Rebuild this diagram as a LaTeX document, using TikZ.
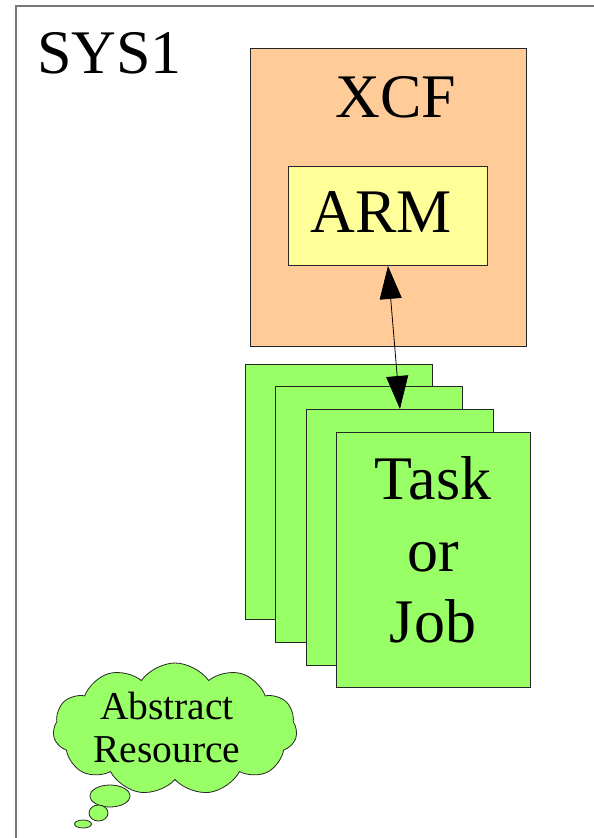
\documentclass[tikz,border=0pt]{standalone}
\usepackage{fontspec}
\setmainfont{Liberation Serif}
\usetikzlibrary{shapes.symbols,shapes.geometric,arrows.meta}
\definecolor{xcffill}{HTML}{FFCC99}
\definecolor{armfill}{HTML}{FFFF99}
\definecolor{jobfill}{HTML}{99FF66}
\definecolor{framegray}{HTML}{777777}
\tikzset{
  frameline/.style={draw=framegray, line width=1.2pt},
  panel/.style={draw=black!85, line width=0.9pt, anchor=north west, inner sep=0pt},
  bigtext/.style={font=\fontsize{62}{71.5}\selectfont, inner sep=0pt, align=center},
  cloudtext/.style={font=\fontsize{39.5}{43}\selectfont, inner sep=0pt, align=center},
  puff/.style={ellipse, draw=black!85, line width=0.8pt, fill=jobfill, inner sep=0pt},
  link/.style={line width=0.8pt, {Triangle[length=33pt,width=22pt]}-{Triangle[length=33pt,width=22pt]}}
}
\begin{document}
\begin{tikzpicture}[x=1pt, y=-1pt]
\useasboundingbox (0,0) rectangle (594,838);
\clip (0,0) rectangle (594,838);

% system frame (runs past the right and bottom edges)
\draw[frameline] (16,6) rectangle (640,880);
\node[bigtext, anchor=base west] (sys) at (37,73) {SYS1};

% XCF with its ARM component
\node[panel, fill=xcffill, minimum width=276pt, minimum height=298pt] (xcf) at (250,48) {};
\node[bigtext, anchor=base] (xcflabel) at (396,117) {XCF};
\node[panel, fill=armfill, minimum width=199pt, minimum height=99pt] (arm) at (288,166) {};
\node[bigtext, anchor=base] (armlabel) at (381,232) {ARM};

% stack of tasks / jobs
\node[panel, fill=jobfill, minimum width=187pt, minimum height=255pt] (job1) at (245,364) {};
\node[panel, fill=jobfill, minimum width=187pt, minimum height=256pt] (job2) at (275,386) {};
\node[panel, fill=jobfill, minimum width=187pt, minimum height=256pt] (job3) at (306,409) {};
\node[panel, fill=jobfill, minimum width=194pt, minimum height=255pt] (job4) at (336,432) {};
\node[bigtext] (joblabel) at (433,550) {Task\\or\\Job};

% ARM <-> task link
\draw[link] (arm.south) -- (job3.north);

% thought cloud
\node[cloud, cloud puffs=11, cloud puff arc=110, aspect=1.9, draw=black!85, line width=0.8pt,
      fill=jobfill, minimum width=244pt, minimum height=132pt, inner sep=0pt] (cloud) at (175,729) {};
\node[cloudtext] (cloudlabel) at (167,727) {Abstract\\Resource};
\node[puff, minimum width=40pt, minimum height=22pt] (p1) at (110,796) {};
\node[puff, minimum width=19pt, minimum height=16pt] (p2) at (98.5,813) {};
\node[puff, minimum width=17pt, minimum height=8pt] (p3) at (83,824) {};
\end{tikzpicture}
\end{document}
